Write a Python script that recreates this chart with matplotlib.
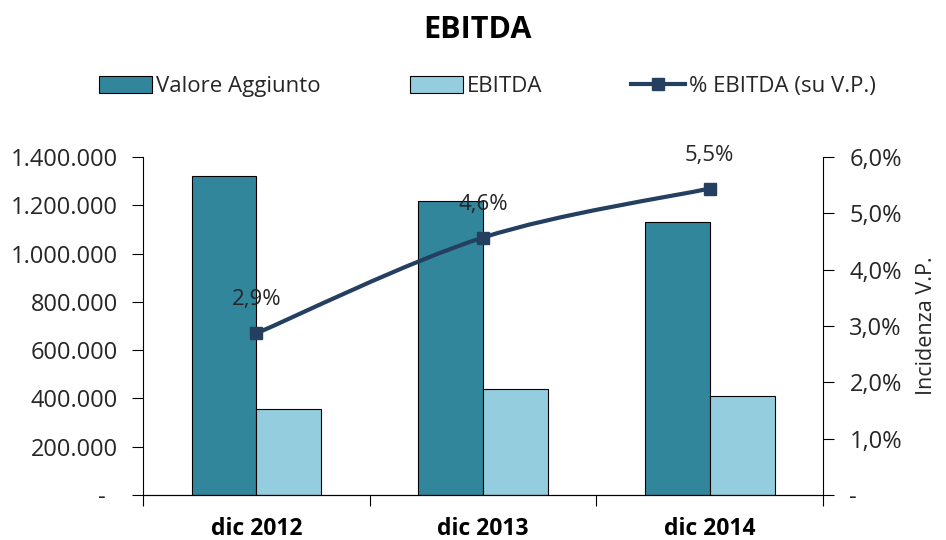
import numpy as np
import matplotlib.pyplot as plt
from matplotlib.path import Path
from matplotlib.patches import PathPatch, Patch
from matplotlib.lines import Line2D
from matplotlib.ticker import FuncFormatter, FixedLocator

plt.rcParams['font.family'] = ['Open Sans', 'DejaVu Sans']

# dati
anni = ["dic 2012", "dic 2013", "dic 2014"]
valore_aggiunto = [1321000, 1218000, 1130000]
ebitda = [355000, 439000, 411000]
perc_ebitda = [2.87, 4.57, 5.44]
perc_labels = ["2,9%", "4,6%", "5,5%"]

c_va = '#32869C'
c_eb = '#94CDDD'
c_line = '#243F60'
c_txt = '#262626'

fig = plt.figure(figsize=(9.46, 5.4), dpi=100)
ax = fig.add_axes([0.1512, 0.0833, 0.7188, 0.626])
ax2 = ax.twinx()

x = np.arange(len(anni))
w = 0.286
ax.bar(x - w/2, valore_aggiunto, w, color=c_va, edgecolor='black', linewidth=0.8, zorder=2)
ax.bar(x + w/2, ebitda, w, color=c_eb, edgecolor='black', linewidth=0.8, zorder=2)

ax.set_xlim(-0.5, 2.5)
ax.set_ylim(0, 1400000)
ax.yaxis.set_major_locator(FixedLocator(np.arange(0, 1400001, 200000)))

def fmt_eur(v, pos):
    if v == 0:
        return "-  "
    return "{:,.0f}".format(v).replace(",", ".")

ax.yaxis.set_major_formatter(FuncFormatter(fmt_eur))

# assi x: tacche ai confini, etichette al centro
ax.xaxis.set_major_locator(FixedLocator([-0.5, 0.5, 1.5, 2.5]))
ax.xaxis.set_minor_locator(FixedLocator(x))
ax.set_xticklabels([])
ax.set_xticklabels(anni, minor=True, fontweight='bold', fontsize=16.5, color='black')
ax.tick_params(axis='x', which='major', length=8, direction='out', color='black')
ax.tick_params(axis='x', which='minor', length=0, pad=16)
ax.tick_params(axis='y', length=8, direction='out', labelsize=17, pad=10, colors='black', labelcolor=c_txt)

for s in ['top']:
    ax.spines[s].set_visible(False)
    ax2.spines[s].set_visible(False)
ax2.spines['left'].set_visible(False)
ax.spines['right'].set_visible(False)
for s in ['left', 'bottom']:
    ax.spines[s].set_color('black')
ax2.spines['right'].set_color('black')

# linea smussata (Bezier stile Excel)
ax2.set_ylim(0, 6.0)
ax2.yaxis.set_major_locator(FixedLocator(np.arange(0, 6.01, 1.0)))

def fmt_pct(v, pos):
    if abs(v) < 1e-9:
        return "-"
    return ("%.1f%%" % v).replace(".", ",")

ax2.yaxis.set_major_formatter(FuncFormatter(fmt_pct))
ax2.tick_params(axis='y', length=8, direction='out', labelsize=17, pad=11, colors='black', labelcolor=c_txt)
ax2.set_ylabel("Incidenza V.P.", fontsize=15.5, color=c_txt, labelpad=10)

pts = np.column_stack([x, perc_ebitda]).astype(float)
ext = np.vstack([pts[0], pts, pts[-1]])
verts = [tuple(pts[0])]
codes = [Path.MOVETO]
for i in range(len(pts) - 1):
    p0, p1, p2, p3 = ext[i], ext[i+1], ext[i+2], ext[i+3]
    c1 = p1 + (p2 - p0) / 6.0
    c2 = p2 - (p3 - p1) / 6.0
    verts += [tuple(c1), tuple(c2), tuple(p2)]
    codes += [Path.CURVE4] * 3
ax2.add_patch(PathPatch(Path(verts, codes), facecolor='none', edgecolor=c_line, lw=3, zorder=3))
ax2.plot(x, perc_ebitda, linestyle='none', marker='s', markersize=8.5, color=c_line, zorder=4)

for xi, yi, lab in zip(x, perc_ebitda, perc_labels):
    ax2.annotate(lab, (xi, yi), xytext=(0, 24), textcoords='offset points',
                 ha='center', va='center', fontsize=16, color=c_txt)

fig.text(0.505, 0.945, "EBITDA", ha='center', va='center', fontsize=22, fontweight='bold', color='black')

handles = [Patch(facecolor=c_va, edgecolor='black', linewidth=0.8),
           Patch(facecolor=c_eb, edgecolor='black', linewidth=0.8),
           Line2D([], [], color=c_line, lw=3, marker='s', markersize=8)]
fig.legend(handles, ["Valore Aggiunto", "EBITDA", "% EBITDA (su V.P.)"],
           loc='center', bbox_to_anchor=(0.515, 0.84), ncol=3, frameon=False,
           fontsize=16, handlelength=2.4, handleheight=0.8, handletextpad=0.18,
           columnspacing=4.0, labelcolor=c_txt)

fig.savefig("out.png", dpi=100)
